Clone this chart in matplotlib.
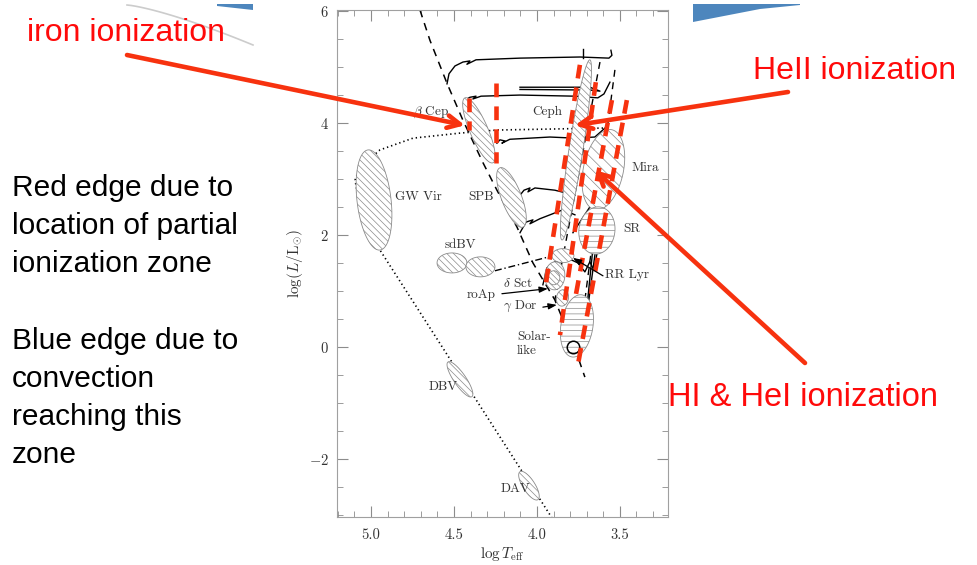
import numpy as np
import matplotlib
matplotlib.use('Agg')
import matplotlib.pyplot as plt
from matplotlib.patches import Polygon

plt.rcParams['font.family'] = 'cmr10'
plt.rcParams['mathtext.fontset'] = 'cm'
plt.rcParams['axes.formatter.use_mathtext'] = True
plt.rcParams['hatch.linewidth'] = 0.5

RED_TXT = '#ff0a0a'
RED = '#f7320f'

# ---- data (log Teff, log L/Lsun) ----
zams_T = [4.705, 4.645, 4.542, 4.446, 4.325, 4.241, 4.120, 4.024, 3.892, 3.753, 3.711]
zams_L = [6.02, 5.48, 4.71, 4.05, 3.29, 2.80, 2.14, 1.50, 0.84, -0.18, -0.54]

wd_T = [3.602, 4.24, 4.464, 4.747, 4.946, 5.066, 5.096, 5.05, 4.946, 3.90]
wd_L = [3.91, 3.875, 3.82, 3.73, 3.52, 3.21, 2.98, 2.2, 1.73, -3.1]

tracks = [
    ([4.542, 4.530, 4.494, 4.446, 4.404, 4.422, 4.367, 4.102, 3.741, 3.566, 3.548, 3.554],
     [4.70, 4.88, 5.02, 5.09, 5.11, 5.05, 5.13, 5.16, 5.18, 5.16, 5.21, 5.30]),
    ([3.723, 3.723], [5.32, 5.16]),
    ([4.434, 4.404, 4.367, 4.386, 4.337, 4.102, 3.771, 3.633, 3.596, 3.560],
     [4.41, 4.46, 4.48, 4.43, 4.48, 4.50, 4.48, 4.45, 4.52, 4.73]),
    ([4.102, 3.681, 3.620, 3.681, 4.102], [4.64, 4.64, 4.57, 4.59, 4.60]),
    ([4.241, 4.223, 4.193, 4.211, 4.163, 3.922, 3.771, 3.651, 3.590],
     [3.64, 3.70, 3.68, 3.64, 3.71, 3.75, 3.73, 3.75, 3.91]),
    ([4.102, 4.078, 4.042, 4.054, 4.012, 3.892, 3.771],
     [2.71, 2.80, 2.84, 2.77, 2.84, 2.80, 2.71]),
    ([4.102, 4.066, 4.024, 4.042, 3.982, 3.843, 3.771],
     [2.04, 2.23, 2.27, 2.20, 2.29, 2.45, 2.36]),
    ([3.783, 3.681], [2.04, 2.50]),
    ([3.964, 3.940, 3.892, 3.789, 3.753, 3.711, 3.681, 3.663],
     [1.11, 1.41, 1.52, 1.55, 1.50, 1.34, 1.52, 1.41]),
    ([3.783, 3.777, 3.753, 3.723, 3.705, 3.639], [0.0, 0.21, 0.30, 0.30, 0.52, 2.45]),
    ([3.614, 3.687], [2.45, 0.84]),
    ([3.590, 3.651], [2.45, 1.46]),
]
hb_T = [4.253, 3.861, 3.771]
hb_L = [1.36, 1.66, 1.70]

strip_T = [(3.620, 3.892), (3.530, 3.711)]
strip_L = [(5.09, 0.84), (4.95, 0.84)]

# red dashed ionization edges
red_T = [(4.410, 4.410), (4.247, 4.247), (3.741, 3.952), (3.645, 3.861), (3.548, 3.771), (3.458, 3.753)]
red_L = [(4.45, 3.88), (4.71, 3.29), (5.04, 1.02), (4.73, 0.21), (4.41, 0.84), (4.41, -0.32)]

# ellipses: tip1, tip2, half width (px), hatch
ellipses = [
    ((4.434, 4.45), (4.265, 3.29), 9, '\\\\\\\\\\'),
    ((5.018, 3.52), (4.946, 1.73), 17, '\\\\\\\\\\'),
    ((4.223, 3.20), (4.084, 2.14), 10, '\\\\\\\\\\'),
    ((3.681, 5.13), (3.849, 1.91), 7, '\\\\\\\\\\'),
    ((3.548, 3.88), (3.651, 2.45), 20, '\\\\\\'),
    ((3.620, 2.50), (3.657, 1.66), 18, '---'),
    ((4.602, 1.50), (4.422, 1.50), 10, '\\\\\\\\\\'),
    ((4.428, 1.43), (4.253, 1.43), 10, '\\\\\\\\\\'),
    ((3.910, 1.63), (3.777, 1.63), 7, '\\\\\\\\\\'),
    ((3.886, 1.52), (3.898, 1.02), 10, '\\\\\\\\\\'),
    ((3.898, 1.36), (3.898, 1.11), 6, '\\\\\\\\\\\\'),
    ((3.837, 1.02), (3.855, 0.73), 6, '\\\\\\\\\\'),
    ((3.729, 0.93), (3.789, -0.18), 16, '---'),
    ((4.536, -0.27), (4.392, -0.89), 6, '\\\\\\\\\\'),
    ((4.102, -2.23), (3.994, -2.73), 6, '\\\\\\\\\\'),
]

labels = ['$\\beta$ Cep', 'Ceph', 'Mira', 'GW Vir', 'SPB', 'SR', 'sdBV', 'RR Lyr',
          '$\\delta$ Sct', 'roAp', '$\\gamma$ Dor', 'Solar-', 'like', 'DBV', 'DAV']
label_T = [4.747, 4.030, 3.428, 4.855, 4.416, 3.482, 4.554, 3.590,
           4.205, 4.422, 4.205, 4.120, 4.120, 4.651, 4.217]
label_L = [4.20, 4.20, 3.20, 2.68, 2.68, 2.11, 1.82, 1.28,
           1.14, 0.93, 0.73, 0.18, -0.07, -0.71, -2.54]

small_arrows = [((4.211, 0.95), (3.934, 1.04)), ((3.964, 0.71), (3.880, 0.75)),
                ((3.602, 1.27), (3.783, 1.59))]

fig = plt.figure(figsize=(9.78, 5.65), dpi=100)

# slide decoration layer (pixel coordinates)
bg = fig.add_axes([0, 0, 1, 1], zorder=0)
bg.set_xlim(0, 978)
bg.set_ylim(565, 0)
bg.axis('off')
bg.fill([693, 800, 800, 760, 693], [4, 4, 5, 9, 22], color='#4d86bd', lw=0)
bg.fill([217, 253, 253, 217], [4, 4, 10, 6], color='#4d86bd', lw=0)
arc_x = np.linspace(127, 253, 30)
bg.plot(arc_x, 5 + 40 * ((arc_x - 127) / 126) ** 1.3, color='#cccccc', lw=1.2)

bg.text(27, 33, 'iron ionization', color=RED_TXT, fontsize=23,
        family='Liberation Sans', va='center')
bg.text(753, 71, 'HeII ionization', color=RED_TXT, fontsize=23,
        family='Liberation Sans', va='center')
bg.text(668, 398, 'HI & HeI ionization', color=RED_TXT, fontsize=23.5,
        family='Liberation Sans', va='center')
side = ['Red edge due to', 'location of partial', 'ionization zone', '',
        'Blue edge due to', 'convection', 'reaching this', 'zone']
for i, s in enumerate(side):
    bg.text(12, 188 + i * 38.2, s, fontsize=21.5, family='Liberation Sans', va='center')

ax = fig.add_axes([337 / 978, 48 / 565, 331 / 978, 507 / 565], zorder=1)
ax.set_xlim(5.205, 3.21)
ax.set_ylim(-3.04, 6.02)

ax.plot(zams_T, zams_L, color='k', lw=1.1, ls=(0, (5, 4)))
ax.plot(wd_T, wd_L, color='k', lw=1.2, ls=(0, (0.8, 1.8)))
for tt, ll in tracks:
    ax.plot(tt, ll, color='k', lw=1.0)
ax.plot(hb_T, hb_L, color='k', lw=1.0, ls=(0, (5, 2, 1, 2)))
for tt, ll in zip(strip_T, strip_L):
    ax.plot(tt, ll, color='k', lw=1.0, ls=(0, (5, 4)))

inv = ax.transData.inverted()
for p1, p2, hw, hatch in ellipses:
    a = ax.transData.transform(p1)
    b = ax.transData.transform(p2)
    c = (a + b) / 2
    u = (b - a) / 2
    n = np.array([-u[1], u[0]]) / np.hypot(*u)
    t = np.linspace(0, 2 * np.pi, 80)
    pts = c + np.outer(np.cos(t), u) + np.outer(np.sin(t), n * hw)
    ax.add_patch(Polygon(inv.transform(pts), closed=True, facecolor='white',
                         edgecolor='#8a8a8a', hatch=hatch, lw=0.6, zorder=3))

ax.plot([3.783], [0.0], 'o', mfc='none', mec='k', ms=9, mew=1.1, zorder=4)

for tt, ll in zip(red_T, red_L):
    ax.plot(tt, ll, color=RED, lw=3.3, ls=(0, (3, 2)), zorder=5)

for s, x, y in zip(labels, label_T, label_L):
    ax.text(x, y, s, fontsize=9.5, color='#333333', va='center', ha='left', zorder=6)

for p0, p1 in small_arrows:
    ax.annotate('', xy=p1, xytext=p0,
                arrowprops=dict(arrowstyle='-|>,head_length=0.5,head_width=0.18',
                                color='k', lw=0.9, shrinkA=0, shrinkB=0), zorder=6)

big_arrows = [((4.434, 3.96), (127, 55)), ((3.771, 3.96), (788, 92)),
              ((3.651, 3.16), (805, 363))]
for tip, start in big_arrows:
    ax.annotate('', xy=tip, xycoords='data', xytext=start, textcoords=bg.transData,
                annotation_clip=False,
                arrowprops=dict(arrowstyle='->,head_length=0.9,head_width=0.45',
                                color=RED, lw=3.3, shrinkA=0, shrinkB=0), zorder=7)

ax.set_xticks([5.0, 4.5, 4.0, 3.5])
ax.set_xticklabels(['5.0', '4.5', '4.0', '3.5'])
ax.set_xticks(np.arange(3.3, 5.21, 0.1), minor=True)
ax.set_yticks([-2, 0, 2, 4, 6])
ax.set_yticks(np.arange(-3, 6.01, 0.5), minor=True)
ax.tick_params(which='both', direction='in', top=True, right=True, color='#8c8c8c',
               labelcolor='#333333', labelsize=10.5)
ax.tick_params(axis='x', which='both', pad=8)
ax.tick_params(axis='y', which='both', pad=6)
ax.tick_params(which='major', length=8)
ax.tick_params(which='minor', length=4.5)
for sp in ax.spines.values():
    sp.set_color('#a0a0a0')
ax.set_xlabel('$\\log T_{\\rm eff}$', fontsize=11, color='#333333', labelpad=2)
ax.set_ylabel('$\\log(L/\\mathrm{L}_{\\odot})$', fontsize=11, color='#333333', labelpad=3)

fig.savefig('out.png', dpi=100, facecolor='white')
